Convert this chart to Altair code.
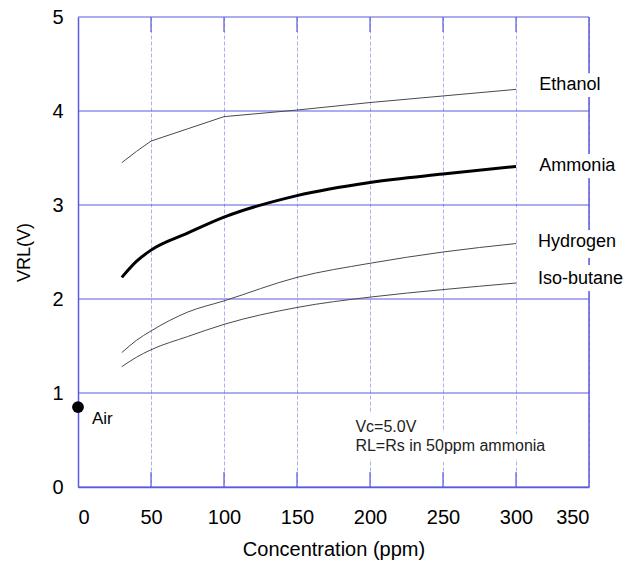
import altair as alt
import pandas as pd

# ---- data ----
ppm = [30, 40, 50, 75, 100, 150, 200, 250, 300]
ethanol = [3.45, 3.57, 3.68, 3.81, 3.94, 4.01, 4.09, 4.16, 4.23]
ammonia = [2.23, 2.40, 2.52, 2.70, 2.87, 3.10, 3.24, 3.33, 3.41]
hydrogen = [1.43, 1.56, 1.66, 1.86, 1.98, 2.23, 2.38, 2.50, 2.59]
isobutane = [1.28, 1.38, 1.46, 1.60, 1.73, 1.91, 2.02, 2.10, 2.17]

gas_names = ["Ethanol", "Ammonia", "Hydrogen", "Iso-butane"]
gas_label_x = [316, 316, 315, 315]
gas_label_y = [4.28, 3.42, 2.61, 2.21]

air_x = [0]
air_y = [0.85]

note_lines = ["Vc=5.0V", "RL=Rs in 50ppm ammonia"]
note_x = [190, 190]
note_y = [0.64, 0.44]

x_ticks = [0, 50, 100, 150, 200, 250, 300, 350]
inner_ticks = [50, 100, 150, 200, 250, 300]
y_ticks = [0, 1, 2, 3, 4, 5]

BLUE = "#5a5ae0"
LIGHT = "#aeaef2"
FONT = "Liberation Sans"

rows = []
for name, vals in zip(gas_names, [ethanol, ammonia, hydrogen, isobutane]):
    for p, v in zip(ppm, vals):
        rows.append({"gas": name, "ppm": p, "v": v})
df = pd.DataFrame(rows)

xs = alt.Scale(domain=[0, 350], nice=False)
ys = alt.Scale(domain=[0, 5], nice=False)

xaxis = alt.Axis(
    values=x_ticks, format="d", title="Concentration (ppm)",
    grid=True, gridColor=LIGHT, gridDash=[4, 2], gridWidth=1, gridOpacity=1,
    domainColor=BLUE, domainWidth=1.5, ticks=False, labelFont=FONT,
    labelFontSize=20, labelColor="black", labelPadding=20,
    titleFont=FONT, titleFontSize=20, titleFontWeight="normal",
    titleColor="black", titlePadding=12)
yaxis = alt.Axis(
    values=y_ticks, format="d", title="VRL(V)",
    grid=False,
    domainColor=BLUE, domainWidth=1.5, ticks=False, labelFont=FONT,
    labelFontSize=20, labelColor="black", labelPadding=15,
    titleFont=FONT, titleFontSize=18, titleFontWeight="normal",
    titleColor="black", titlePadding=18)

X = alt.X("ppm:Q", scale=xs, axis=xaxis)
Y = alt.Y("v:Q", scale=ys, axis=yaxis)

hgrid_df = pd.DataFrame({"g": y_ticks})
hgrid = alt.Chart(hgrid_df).mark_rule(color=BLUE, strokeWidth=1.2).encode(
    y=alt.Y("g:Q", scale=ys, axis=yaxis))

thin = alt.Chart(df[df.gas.isin(["Hydrogen", "Iso-butane"])]).mark_line(
    color="#4a4a4a", strokeWidth=1, interpolate="monotone"
).encode(x=X, y=Y, detail="gas:N")

eth = alt.Chart(df[df.gas == "Ethanol"]).mark_line(color="#4a4a4a", strokeWidth=1).encode(
    x=X, y=Y)

amm = alt.Chart(df[df.gas == "Ammonia"]).mark_line(
    color="black", strokeWidth=3, interpolate="monotone"
).encode(x=X, y=Y)

ticks_df = pd.DataFrame({"t": inner_ticks})
TX = alt.X("t:Q", scale=xs, axis=xaxis)
top_ticks = alt.Chart(ticks_df).mark_rule(color=BLUE, strokeWidth=1.2).encode(
    x=TX, y=alt.value(0), y2=alt.value(15))
bot_ticks = alt.Chart(ticks_df).mark_rule(color=BLUE, strokeWidth=1.2).encode(
    x=TX, y=alt.value(455), y2=alt.value(470))
right_border = alt.Chart(ticks_df.head(1)).mark_rule(color=BLUE, strokeWidth=1.5).encode(
    x=alt.value(511), y=alt.value(0), y2=alt.value(470))

lab_df = pd.DataFrame({"name": gas_names, "x": gas_label_x, "y": gas_label_y})
LX = alt.X("x:Q", scale=xs, axis=xaxis)
LY = alt.Y("y:Q", scale=ys, axis=yaxis)
lab_halo = alt.Chart(lab_df).mark_text(
    align="left", baseline="middle", font=FONT, fontSize=18,
    stroke="white", strokeWidth=14, fill="white"
).encode(x=LX, y=LY, text="name:N")
lab = alt.Chart(lab_df).mark_text(
    align="left", baseline="middle", font=FONT, fontSize=18, color="black"
).encode(x=LX, y=LY, text="name:N")

note_df = pd.DataFrame({"t": note_lines, "x": note_x, "y": note_y})
note_halo = alt.Chart(note_df).mark_text(
    align="left", baseline="middle", font=FONT, fontSize=16,
    stroke="white", strokeWidth=16, fill="white"
).encode(x=LX, y=LY, text="t:N")
note = alt.Chart(note_df).mark_text(
    align="left", baseline="middle", font=FONT, fontSize=16, color="#222222"
).encode(x=LX, y=LY, text="t:N")

air_df = pd.DataFrame({"x": air_x, "y": air_y, "t": ["Air"]})
air = alt.Chart(air_df).mark_circle(size=140, color="black", opacity=1).encode(
    x=LX, y=LY)
air_lab = alt.Chart(air_df).mark_text(
    align="left", baseline="middle", font=FONT, fontSize=17, dx=14, dy=12, color="black"
).encode(x=LX, y=LY, text="t:N")

chart = alt.layer(
    hgrid, thin, eth, amm, top_ticks, bot_ticks, right_border,
    lab_halo, lab, note_halo, note, air, air_lab
).properties(
    width=511, height=470,
    autosize=alt.AutoSizeParams(type="none"),
    padding={"left": 78, "top": 17, "right": 48, "bottom": 76},
    background="white",
).configure_view(stroke=None)

chart.save("out.html", embed_options={"renderer": "svg", "actions": False})
